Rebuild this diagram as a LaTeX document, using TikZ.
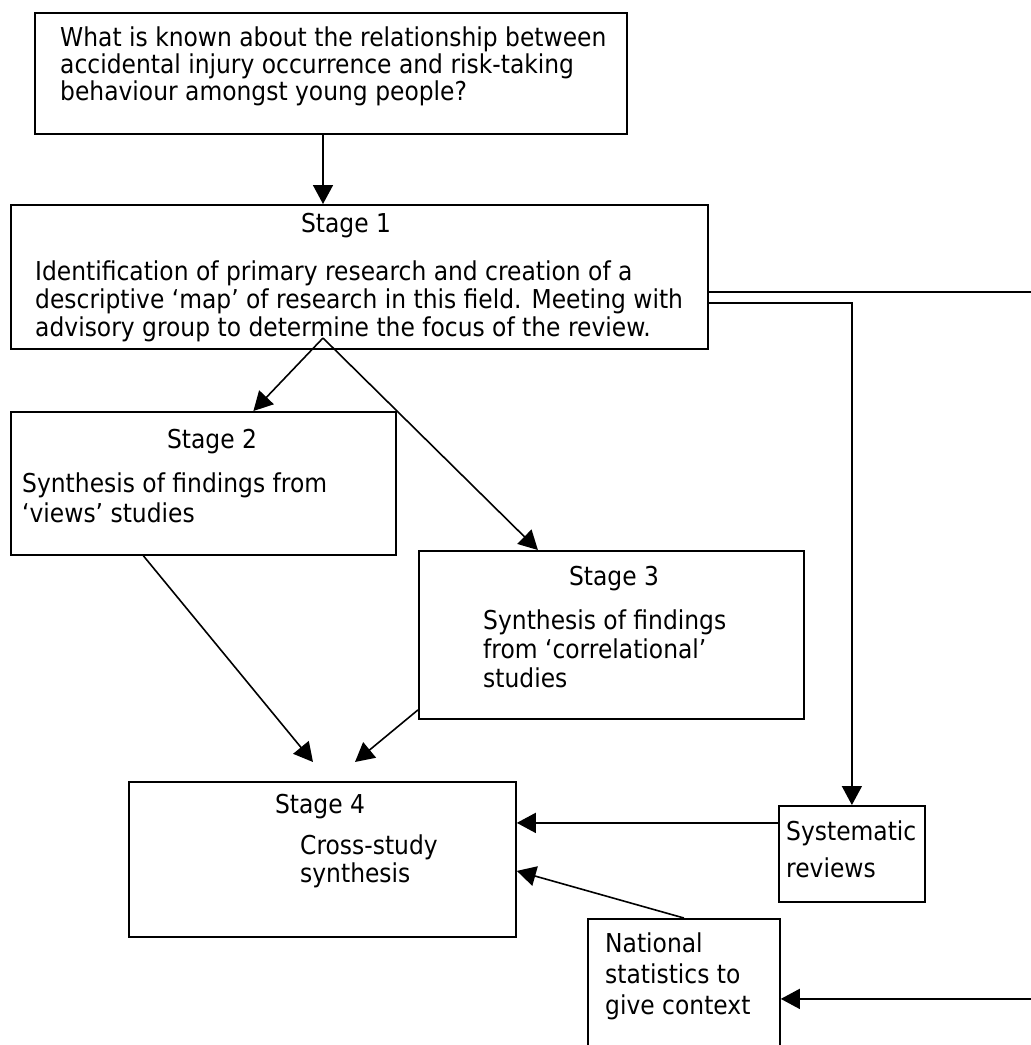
\documentclass[tikz,border=0pt]{standalone}
\usepackage{fontspec}
\setmainfont{DejaVu Sans}[FakeStretch=0.9]
\usetikzlibrary{arrows.meta, positioning, calc}

\begin{document}
\begin{tikzpicture}[x=1pt, y=-1pt,
    box/.style={draw, line width=1.8pt, anchor=north west, inner sep=0pt},
    txt/.style={anchor=north west, align=left, inner sep=0pt, font=\fontsize{26}{27}\selectfont},
    head/.style={anchor=base, inner sep=0pt, font=\fontsize{26}{27}\selectfont},
    arr/.style={line width=1.6pt, -{Triangle[length=19pt, width=20pt]}}]
    \useasboundingbox (0,0) rectangle (1031,1045);

    \node[box, minimum width=592pt, minimum height=121pt] (q) at (34,12) {};
    \node[box, minimum width=697pt, minimum height=144pt] (s1) at (10,204) {};
    \node[box, minimum width=385pt, minimum height=143pt] (s2) at (10,411) {};
    \node[box, minimum width=385pt, minimum height=168pt] (s3) at (418,550) {};
    \node[box, minimum width=387pt, minimum height=155pt] (s4) at (128,781) {};
    \node[box, minimum width=146pt, minimum height=96pt] (sr) at (778,805) {};
    \node[box, minimum width=192pt, minimum height=160pt] (ns) at (587,918) {};

    \node[txt] (qt) at (60,27) {What is known about the relationship between\\accidental injury occurrence and risk-taking\\behaviour amongst young people?};
    \node[head] (s1h) at (346,232) {Stage 1};
    \node[txt, font=\fontsize{26}{28}\selectfont] (s1t) at (35,261) {Identification of primary research and creation of a\\descriptive ‘map’ of research in this field. Meeting with\\advisory group to determine the focus of the review.};
    \node[head] (s2h) at (212,448) {Stage 2};
    \node[txt, font=\fontsize{26}{30}\selectfont] (s2t) at (22,473) {Synthesis of findings from\\‘views’ studies};
    \node[head] (s3h) at (614,585) {Stage 3};
    \node[txt, font=\fontsize{26}{29}\selectfont] (s3t) at (483,610) {Synthesis of findings\\from ‘correlational’\\studies};
    \node[head] (s4h) at (320,813) {Stage 4};
    \node[txt, font=\fontsize{26}{28}\selectfont] (s4t) at (300,835) {Cross-study\\synthesis};
    \node[txt, font=\fontsize{26}{37}\selectfont] (srt) at (786,821) {Systematic\\reviews};
    \node[txt, font=\fontsize{26}{31}\selectfont] (nst) at (605,933) {National\\statistics to\\give context};

    \coordinate (fork) at (323,338);
    \coordinate (s4a) at (313,762);
    \coordinate (s4b) at (355,762);

    \draw[arr] (q.south -| fork) -- (s1.north -| fork);
    \draw[arr] (fork) -- ([xshift=50pt]s2.north);
    \draw[arr] (fork) -- ([xshift=-73.5pt]s3.north);
    \draw[arr] ([xshift=-60pt]s2.south) -- (s4a);
    \draw[arr] ([yshift=-75pt]s3.west) -- (s4b);
    \draw[arr] ([yshift=-15pt]s1.east) -- ++(323,0) |- (ns.east);
    \draw[arr] ([yshift=-26pt]s1.east) -| (sr.north);
    \draw[arr] ([yshift=31pt]sr.west) -- ([yshift=31pt]sr.west -| s4.east);
    \draw[arr] (ns.north) -- ([yshift=-11.5pt]s4.east);
\end{tikzpicture}
\end{document}
